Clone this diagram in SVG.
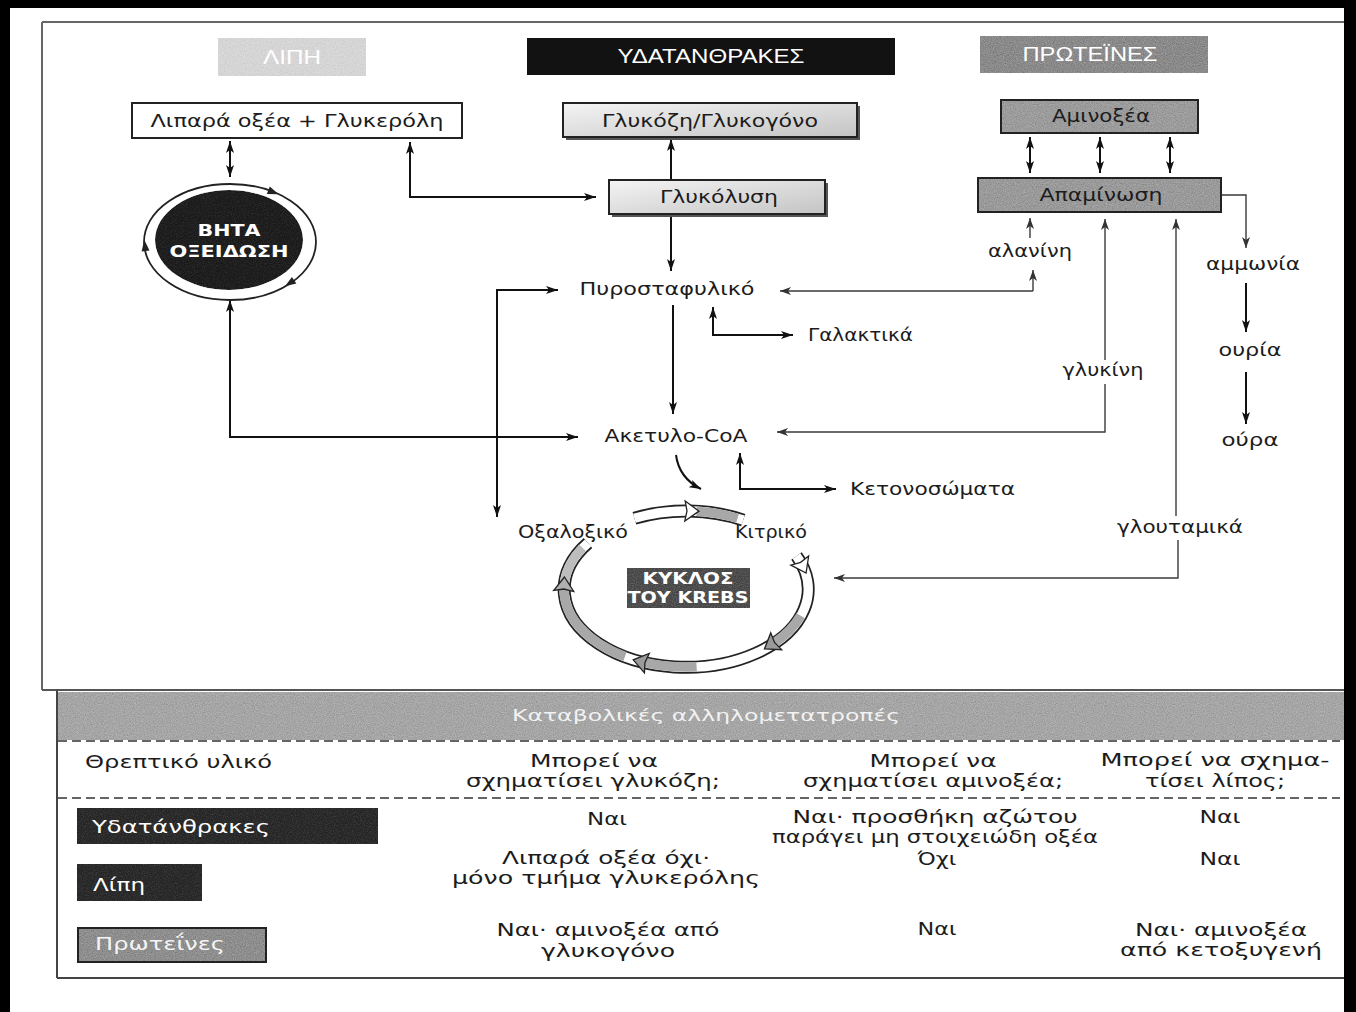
<svg xmlns="http://www.w3.org/2000/svg" width="1356" height="1012" viewBox="0 0 1356 1012">
  <defs>
    <style>
      .t { font-family: "DejaVu Sans", "Noto Sans", sans-serif; font-size: 18px; fill: #1c1c1c; }
      .m { text-anchor: middle; }
      .w { fill: #ffffff; font-weight: bold; }
      .hd { font-family: "Liberation Sans", "DejaVu Sans", sans-serif; font-size: 21px; fill: #ffffff; text-anchor: middle; }
      .ln { fill: none; stroke: #111; stroke-width: 2; }
      .lg { fill: none; stroke: #3a3a3a; stroke-width: 1.4; }
      .box { stroke: #222; stroke-width: 2; }
      .dash { fill: none; stroke: #333; stroke-width: 1.6; stroke-dasharray: 9 5; }
    </style>
    <marker id="ah" viewBox="0 0 12 8" refX="12" refY="4" markerWidth="12" markerHeight="8" markerUnits="userSpaceOnUse" orient="auto-start-reverse">
      <path d="M0,0 L12,4 L0,8 L3,4 z" fill="#111"/>
    </marker>
    <marker id="ahg" viewBox="0 0 11 8" refX="11" refY="4" markerWidth="11" markerHeight="8" markerUnits="userSpaceOnUse" orient="auto-start-reverse">
      <path d="M0,0 L11,4 L0,8 L3,4 z" fill="#333"/>
    </marker>
    <linearGradient id="lightbox" x1="0" y1="0" x2="1" y2="1">
      <stop offset="0" stop-color="#f4f4f4"/>
      <stop offset="1" stop-color="#c4c4c4"/>
    </linearGradient>
    <filter id="grain" x="0" y="0" width="1" height="1" filterUnits="objectBoundingBox">
      <feTurbulence type="fractalNoise" baseFrequency="0.9" numOctaves="2" seed="4" result="t"/>
      <feColorMatrix in="t" type="matrix" values="0.33 0.33 0.33 0 0  0.33 0.33 0.33 0 0  0.33 0.33 0.33 0 0  0 0 0 0 1" result="g"/>
      <feBlend in="g" in2="SourceGraphic" mode="soft-light" result="b"/>
      <feComposite in="b" in2="SourceGraphic" operator="in"/>
    </filter>
  </defs>

  <rect width="1356" height="1012" fill="#ffffff"/>

  <!-- page frame -->
  <g id="frame">
    <rect x="0" y="0" width="10" height="1012" fill="#000"/>
    <rect x="0" y="0" width="1356" height="8" fill="#000"/>
    <rect x="1344" y="0" width="12" height="1012" fill="#000"/>
    <line x1="42" y1="22" x2="1344" y2="22" stroke="#666" stroke-width="2"/>
    <line x1="42" y1="22" x2="42" y2="690" stroke="#666" stroke-width="2"/>
    <line x1="42" y1="690" x2="1344" y2="690" stroke="#555" stroke-width="2"/>
    <line x1="57" y1="690" x2="57" y2="978" stroke="#444" stroke-width="2"/>
    <line x1="57" y1="978" x2="1344" y2="978" stroke="#444" stroke-width="2"/>
  </g>

  <!-- column headers -->
  <g id="hdr-lipids">
    <rect x="218" y="38" width="148" height="38" fill="#d6d6d6" filter="url(#grain)"/>
    <text class="hd" x="292" y="64" textLength="58" lengthAdjust="spacingAndGlyphs">ΛΙΠΗ</text>
  </g>
  <g id="hdr-carbs">
    <rect x="527" y="38" width="368" height="37" fill="#121212"/>
    <text class="hd" x="711" y="63" textLength="187" lengthAdjust="spacingAndGlyphs">ΥΔΑΤΑΝΘΡΑΚΕΣ</text>
  </g>
  <g id="hdr-proteins">
    <rect x="980" y="36" width="228" height="37" fill="#8a8a8a" filter="url(#grain)"/>
    <text class="hd" x="1090" y="61" textLength="135" lengthAdjust="spacingAndGlyphs">ΠΡΩΤΕΪΝΕΣ</text>
  </g>

  <!-- connectors -->
  <g id="connectors">
    <line class="ln" x1="230" y1="141" x2="230" y2="177" marker-start="url(#ah)" marker-end="url(#ah)"/>
    <path class="ln" d="M410,142 L410,197 L596,197" marker-start="url(#ah)" marker-end="url(#ah)"/>
    <line class="ln" x1="671" y1="180" x2="671" y2="139" marker-end="url(#ah)"/>
    <line class="ln" x1="671" y1="214" x2="671" y2="271" marker-end="url(#ah)"/>
    <path class="ln" d="M558,290 L497,290 L497,517" marker-start="url(#ah)" marker-end="url(#ah)"/>
    <path class="lg" d="M1033,291 L780,291" marker-end="url(#ahg)"/>
    <path class="lg" d="M1033,291 L1033,270" marker-end="url(#ahg)"/>
    <path class="lg" d="M1030,238 L1030,218" marker-end="url(#ahg)"/>
    <line class="ln" x1="673" y1="305" x2="673" y2="414" marker-end="url(#ah)"/>
    <path class="ln" d="M713,307 L713,335 L793,335" marker-start="url(#ah)" marker-end="url(#ah)"/>
    <path class="ln" d="M230,300 L230,437 L578,437" marker-start="url(#ah)" marker-end="url(#ah)"/>
    <path class="lg" d="M1105,219 L1105,360" marker-start="url(#ahg)"/>
    <path class="lg" d="M1105,384 L1105,432 L777,432" marker-end="url(#ahg)"/>
    <path class="lg" d="M1176,219 L1176,516" marker-start="url(#ahg)"/>
    <path class="lg" d="M1178,540 L1178,578 L834,578" marker-end="url(#ahg)"/>
    <path class="lg" d="M1221,195 L1246,195 L1246,248" marker-end="url(#ahg)"/>
    <line class="ln" x1="1246" y1="283" x2="1246" y2="332" marker-end="url(#ah)"/>
    <line class="ln" x1="1246" y1="372" x2="1246" y2="424" marker-end="url(#ah)"/>
    <line class="ln" x1="1030" y1="137" x2="1030" y2="173" marker-start="url(#ah)" marker-end="url(#ah)"/>
    <line class="ln" x1="1100" y1="137" x2="1100" y2="173" marker-start="url(#ah)" marker-end="url(#ah)"/>
    <line class="ln" x1="1170" y1="137" x2="1170" y2="173" marker-start="url(#ah)" marker-end="url(#ah)"/>
    <path class="ln" d="M676,455 Q679,478 701,489" marker-end="url(#ah)"/>
    <path class="ln" d="M740,453 L740,489 L836,489" marker-start="url(#ah)" marker-end="url(#ah)"/>
  </g>

  <!-- nodes -->
  <g id="n-fatty-acids">
    <rect class="box" x="132" y="103" width="330" height="35" fill="#fff"/>
    <text class="t m" x="297" y="127" textLength="293" lengthAdjust="spacingAndGlyphs">Λιπαρά οξέα + Γλυκερόλη</text>
  </g>
  <g id="n-beta-oxidation">
    <ellipse cx="230" cy="242" rx="86" ry="58" fill="none" stroke="#222" stroke-width="1.8"/>
    <ellipse cx="229" cy="240" rx="74" ry="50" fill="#1e1e1e" filter="url(#grain)"/>
    <polygon points="6,0 -5,-4 -5,4" fill="#222" transform="translate(273,192) rotate(21)"/>
    <polygon points="6,0 -5,-4 -5,4" fill="#222" transform="translate(145,246) rotate(-96)"/>
    <polygon points="6,0 -5,-4 -5,4" fill="#222" transform="translate(290,283) rotate(146)"/>
    <text class="t m w" x="229" y="236" textLength="63" lengthAdjust="spacingAndGlyphs" style="font-size:16px">ΒΗΤΑ</text>
    <text class="t m w" x="229" y="257" textLength="119" lengthAdjust="spacingAndGlyphs" style="font-size:16px">ΟΞΕΙΔΩΣΗ</text>
  </g>
  <g id="n-glucose">
    <rect x="566" y="106" width="294" height="34" fill="#555"/>
    <rect class="box" x="563" y="103" width="294" height="34" fill="url(#lightbox)"/>
    <text class="t m" x="710" y="127" textLength="216" lengthAdjust="spacingAndGlyphs">Γλυκόζη/Γλυκογόνο</text>
  </g>
  <g id="n-glycolysis">
    <rect x="612" y="183" width="216" height="34" fill="#555"/>
    <rect class="box" x="609" y="180" width="216" height="34" fill="url(#lightbox)"/>
    <text class="t m" x="719" y="203" textLength="118" lengthAdjust="spacingAndGlyphs">Γλυκόλυση</text>
  </g>
  <g id="n-amino-acids">
    <rect x="1001" y="100" width="197" height="33" fill="#9c9c9c" filter="url(#grain)"/>
    <rect x="1001" y="100" width="197" height="33" fill="none" stroke="#222" stroke-width="2"/>
    <text class="t m" x="1101" y="122" textLength="98" lengthAdjust="spacingAndGlyphs">Αμινοξέα</text>
  </g>
  <g id="n-deamination">
    <rect x="978" y="178" width="243" height="34" fill="#9a9a9a" filter="url(#grain)"/>
    <rect x="978" y="178" width="243" height="34" fill="none" stroke="#222" stroke-width="2"/>
    <text class="t m" x="1101" y="201" textLength="123" lengthAdjust="spacingAndGlyphs">Απαμίνωση</text>
  </g>
  <g id="n-pyruvate">
    <text class="t m" x="667" y="295" textLength="175" lengthAdjust="spacingAndGlyphs">Πυροσταφυλικό</text>
  </g>
  <g id="n-lactate">
    <text class="t" x="808" y="341" textLength="105" lengthAdjust="spacingAndGlyphs">Γαλακτικά</text>
  </g>
  <g id="n-alanine">
    <text class="t m" x="1030" y="257" textLength="84" lengthAdjust="spacingAndGlyphs">αλανίνη</text>
  </g>
  <g id="n-glycine">
    <text class="t m" x="1103" y="376" textLength="81" lengthAdjust="spacingAndGlyphs">γλυκίνη</text>
  </g>
  <g id="n-glutamate">
    <text class="t m" x="1180" y="533" textLength="126" lengthAdjust="spacingAndGlyphs">γλουταμικά</text>
  </g>
  <g id="n-ammonia">
    <text class="t m" x="1253" y="270" textLength="94" lengthAdjust="spacingAndGlyphs">αμμωνία</text>
  </g>
  <g id="n-urea">
    <text class="t m" x="1250" y="356" textLength="63" lengthAdjust="spacingAndGlyphs">ουρία</text>
  </g>
  <g id="n-urine">
    <text class="t m" x="1250" y="446" textLength="57" lengthAdjust="spacingAndGlyphs">ούρα</text>
  </g>
  <g id="n-acetyl-coa">
    <text class="t m" x="676" y="442" textLength="143" lengthAdjust="spacingAndGlyphs">Ακετυλο-CoA</text>
  </g>
  <g id="n-ketones">
    <text class="t" x="850" y="495" textLength="165" lengthAdjust="spacingAndGlyphs">Κετονοσώματα</text>
  </g>

  <!-- citric acid cycle -->
  <g id="n-krebs">
    <path d="M634.4,518.3 A122,78 0 0 1 743.2,520.1" fill="none" stroke="#222" stroke-width="13"/>
    <path d="M634.4,518.3 A122,78 0 0 1 743.2,520.1" fill="none" stroke="#fff" stroke-width="9.5"/>
    <path d="M796.5,556 A122,78 0 1 1 588,543" fill="none" stroke="#222" stroke-width="13"/>
    <path d="M796.5,556 A122,78 0 1 1 588,543" fill="none" stroke="#fff" stroke-width="9.5"/>
    <path d="M696.6,511.3 A122,78 0 0 1 737.6,518.3" fill="none" stroke="#a8a8a8" stroke-width="9.5"/>
    <path d="M800.6,615.7 A122,78 0 0 1 773.8,643.2" fill="none" stroke="#a8a8a8" stroke-width="9.5"/>
    <path d="M696.6,666.7 A122,78 0 0 1 644.3,662.3" fill="none" stroke="#a8a8a8" stroke-width="9.5"/>
    <path d="M625,656.5 A122,78 0 0 1 564,589" fill="none" stroke="#a8a8a8" stroke-width="9.5"/>
    <path d="M564.5,582.2 A122,78 0 0 1 582.5,547.7" fill="none" stroke="#bdbdbd" stroke-width="9.5"/>
    <polygon points="9,0 -5,-10 -3,0 -5,10" fill="#fff" stroke="#222" stroke-width="1.3" transform="translate(690,511) rotate(1)"/>
    <polygon points="9,0 -5,-10 -3,0 -5,10" fill="#fff" stroke="#222" stroke-width="1.3" transform="translate(802,565) rotate(63)"/>
    <polygon points="9,0 -5,-10 -3,0 -5,10" fill="#9a9a9a" stroke="#222" stroke-width="1.3" transform="translate(772,644) rotate(147)"/>
    <polygon points="9,0 -5,-10 -3,0 -5,10" fill="#9a9a9a" stroke="#222" stroke-width="1.3" transform="translate(642,662) rotate(194)"/>
    <polygon points="9,0 -5,-10 -3,0 -5,10" fill="#b0b0b0" stroke="#222" stroke-width="1.3" transform="translate(564,586) rotate(-87)"/>
    <rect x="627" y="568" width="123" height="40" fill="#4c4c4c" filter="url(#grain)"/>
    <text class="t m w" x="688" y="584" textLength="91" lengthAdjust="spacingAndGlyphs" style="font-size:15px">ΚΥΚΛΟΣ</text>
    <text class="t m w" x="688" y="603" textLength="121" lengthAdjust="spacingAndGlyphs" style="font-size:15px">ΤΟΥ KREBS</text>
  </g>
  <g id="n-oxaloacetate">
    <text class="t m" x="573" y="538" textLength="110" lengthAdjust="spacingAndGlyphs">Οξαλοξικό</text>
  </g>
  <g id="n-citrate">
    <text class="t m" x="771" y="538" textLength="72" lengthAdjust="spacingAndGlyphs">Κιτρικό</text>
  </g>

  <!-- summary table -->
  <g id="table-title">
    <rect x="58" y="692" width="1286" height="48" fill="#a6a6a6" filter="url(#grain)"/>
    <text class="t m" x="706" y="721" textLength="388" lengthAdjust="spacingAndGlyphs" style="fill:#f2f2f2;font-size:16px">Καταβολικές αλληλομετατροπές</text>
  </g>
  <g id="table-rules">
    <line class="dash" x1="58" y1="741" x2="1340" y2="741"/>
    <line class="dash" x1="58" y1="798" x2="1340" y2="798"/>
  </g>
  <g id="table-head">
    <text class="t" x="85" y="768" textLength="187" lengthAdjust="spacingAndGlyphs">Θρεπτικό υλικό</text>
    <text class="t m" x="594" y="767" textLength="128" lengthAdjust="spacingAndGlyphs">Μπορεί να</text>
    <text class="t m" x="593" y="787" textLength="254" lengthAdjust="spacingAndGlyphs">σχηματίσει γλυκόζη;</text>
    <text class="t m" x="933" y="767" textLength="127" lengthAdjust="spacingAndGlyphs">Μπορεί να</text>
    <text class="t m" x="933" y="787" textLength="260" lengthAdjust="spacingAndGlyphs">σχηματίσει αμινοξέα;</text>
    <text class="t m" x="1215" y="766" textLength="229" lengthAdjust="spacingAndGlyphs">Μπορεί να σχημα-</text>
    <text class="t m" x="1215" y="787" textLength="140" lengthAdjust="spacingAndGlyphs">τίσει λίπος;</text>
  </g>
  <g id="row-carbs">
    <rect x="77" y="808" width="301" height="36" fill="#2a2a2a" filter="url(#grain)"/>
    <text class="t" x="92" y="833" textLength="178" lengthAdjust="spacingAndGlyphs" style="fill:#fff">Υδατάνθρακες</text>
    <text class="t m" x="607" y="825" textLength="40" lengthAdjust="spacingAndGlyphs">Ναι</text>
    <text class="t m" x="935" y="823" textLength="285" lengthAdjust="spacingAndGlyphs">Ναι· προσθήκη αζώτου</text>
    <text class="t m" x="935" y="843" textLength="326" lengthAdjust="spacingAndGlyphs">παράγει μη στοιχειώδη οξέα</text>
    <text class="t m" x="1220" y="823" textLength="41" lengthAdjust="spacingAndGlyphs">Ναι</text>
  </g>
  <g id="row-lipids">
    <rect x="77" y="864" width="125" height="37" fill="#2a2a2a" filter="url(#grain)"/>
    <text class="t" x="93" y="891" textLength="52" lengthAdjust="spacingAndGlyphs" style="fill:#fff">Λίπη</text>
    <text class="t m" x="606" y="864" textLength="208" lengthAdjust="spacingAndGlyphs">Λιπαρά οξέα όχι·</text>
    <text class="t m" x="606" y="884" textLength="308" lengthAdjust="spacingAndGlyphs">μόνο τμήμα γλυκερόλης</text>
    <text class="t m" x="937" y="865" textLength="39" lengthAdjust="spacingAndGlyphs">Όχι</text>
    <text class="t m" x="1220" y="865" textLength="41" lengthAdjust="spacingAndGlyphs">Ναι</text>
  </g>
  <g id="row-proteins">
    <rect x="78" y="928" width="188" height="34" fill="#8e8e8e" filter="url(#grain)"/>
    <rect x="78" y="928" width="188" height="34" fill="none" stroke="#222" stroke-width="2"/>
    <text class="t" x="95" y="950" textLength="130" lengthAdjust="spacingAndGlyphs" style="fill:#f4f4f4">Πρωτεΐνες</text>
    <text class="t m" x="608" y="936" textLength="223" lengthAdjust="spacingAndGlyphs">Ναι· αμινοξέα από</text>
    <text class="t m" x="608" y="957" textLength="134" lengthAdjust="spacingAndGlyphs">γλυκογόνο</text>
    <text class="t m" x="937" y="935" textLength="39" lengthAdjust="spacingAndGlyphs">Ναι</text>
    <text class="t m" x="1221" y="936" textLength="172" lengthAdjust="spacingAndGlyphs">Ναι· αμινοξέα</text>
    <text class="t m" x="1221" y="956" textLength="202" lengthAdjust="spacingAndGlyphs">από κετοξυγενή</text>
  </g>
</svg>
